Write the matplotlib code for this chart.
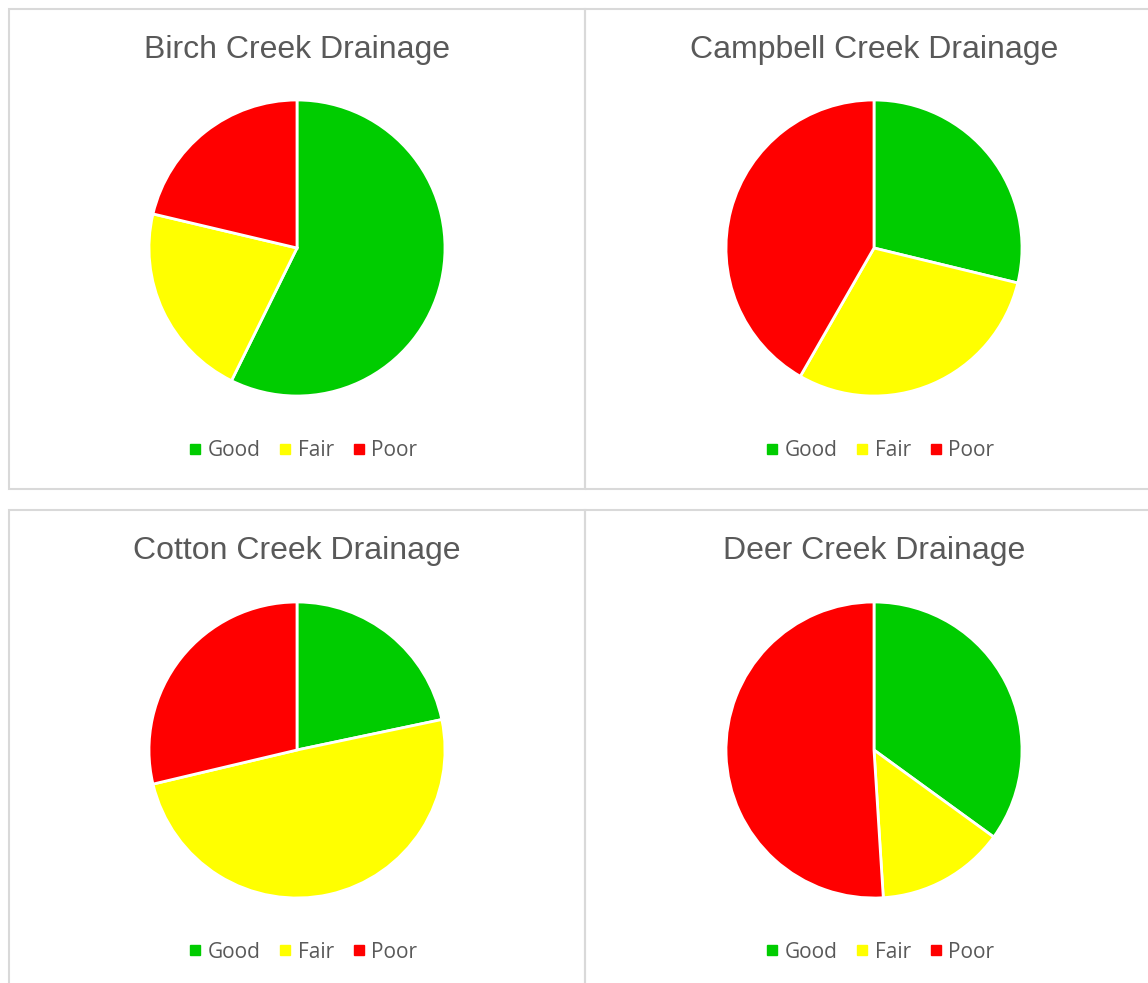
import matplotlib
matplotlib.use('Agg')
import matplotlib.pyplot as plt
from matplotlib.lines import Line2D
from matplotlib.patches import Rectangle

# Данные (доли в процентах)
drainages = ['Birch Creek Drainage', 'Campbell Creek Drainage',
             'Cotton Creek Drainage', 'Deer Creek Drainage']
categories = ['Good', 'Fair', 'Poor']
birch = [57.3, 21.4, 21.3]
campbell = [28.8, 29.5, 41.7]
cotton = [21.7, 49.6, 28.7]
deer = [35.0, 14.0, 51.0]
colors = ['#00CC00', '#FFFF00', '#FF0000']

W, H = 1148, 983
fig = plt.figure(figsize=(W / 100, H / 100), dpi=100)
fig.patch.set_facecolor('white')


def fx(x):
    return x / W


def fy(y):
    return 1 - y / H


### Рамки панелей ###
panels = [(9, 9, 585, 489), (585, 9, 1160, 489),
          (9, 510, 585, 995), (585, 510, 1160, 995)]
for x0, y0, x1, y1 in panels:
    fig.patches.append(Rectangle((fx(x0), fy(y1)), fx(x1 - x0), (y1 - y0) / H,
                                 transform=fig.transFigure, fill=False,
                                 edgecolor='#D9D9D9', linewidth=1.5))

### Круговые диаграммы ###
centers = [(297, 248), (874, 248), (297, 750), (874, 750)]
r = 148
pad = 1.03
for name, vals, (cx, cy) in zip(drainages, [birch, campbell, cotton, deer], centers):
    size = r * pad
    ax = fig.add_axes([fx(cx - size), fy(cy + size), 2 * size / W, 2 * size / H])
    ax.pie(vals, colors=colors, startangle=90, counterclock=False,
           wedgeprops=dict(edgecolor='white', linewidth=2))
    ax.set_xlim(-pad, pad)
    ax.set_ylim(-pad, pad)
    ax.axis('off')

    # заголовок и легенда панели
    top = 9 if cy < 500 else 510
    fig.text(fx(cx), fy(top + 41), name, ha='center', va='center', fontsize=23,
             color='#595959', family='Liberation Sans')

    handles = [Line2D([], [], marker='s', linestyle='none', markersize=6.5,
                      markerfacecolor=c, markeredgecolor=c) for c in colors]
    fig.legend(handles, categories, loc='center', ncol=3,
               bbox_to_anchor=(fx(cx + 6), fy(top + 442)), frameon=False,
               prop={'family': 'Open Sans', 'size': 15},
               labelcolor='#595959', handlelength=0.6, handletextpad=0.3,
               columnspacing=0.9)

fig.savefig('out.png', dpi=100)
